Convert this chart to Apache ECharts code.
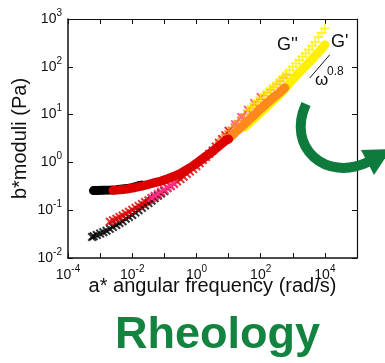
<!DOCTYPE html>
<html><head><meta charset="utf-8">
<script src="https://cdn.jsdelivr.net/npm/echarts@6/dist/echarts.min.js"></script>
<style>html,body{margin:0;padding:0;background:#fff}#c{width:385px;height:363px}</style>
</head><body><div id="c"></div>
<script>
// ---- data ----
const xTitle = 'a* angular frequency (rad/s)';
const yTitle = 'b*moduli (Pa)';
const chartTitle = 'Rheology';
const xLabelExp = [-4, -2, 0, 2, 4];
const yLabelExp = [-2, -1, 0, 1, 2, 3];

// G' (storage modulus, circles)
const gpBlackX = [6.2e-4, 7.9e-4, 1.26e-3, 2.0e-3, 3.2e-3, 5.0e-3, 7.9e-3, 0.01, 0.0158, 0.02];
const gpBlackY = [0.257, 0.257, 0.26, 0.263, 0.269, 0.279, 0.29, 0.297, 0.325, 0.336];
const gpRedX = [2.5e-3, 3.2e-3, 5.0e-3, 7.9e-3, 0.0126, 0.02, 0.032, 0.05, 0.079, 0.126, 0.2, 0.32, 0.5, 0.79, 1.26, 2.0, 3.2, 5.0, 7.9, 10];
const gpRedY = [0.26, 0.263, 0.272, 0.282, 0.299, 0.32, 0.347, 0.376, 0.407, 0.457, 0.513, 0.589, 0.708, 0.851, 1.07, 1.35, 1.70, 2.19, 2.82, 3.09];
const gpOrangeX = [10, 15.8, 25, 40, 63, 100, 158, 250, 400, 560];
const gpOrangeY = [3.09, 4.17, 5.50, 7.41, 9.77, 13.2, 17.4, 22.9, 29.5, 36.3];
const gpYellowX = [32, 50, 79, 126, 200, 320, 500, 790, 1260, 2000, 3200, 5000, 7900, 10000];
const gpYellowY = [5.5, 7.24, 9.55, 12.9, 17.4, 23.4, 31.6, 45.7, 64.6, 89.1, 123, 170, 234, 288];

// G'' (loss modulus, crosses)
const gppBlackX = [5.6e-4, 6.3e-4, 7.9e-4, 1.0e-3, 1.26e-3, 1.58e-3, 2.0e-3, 2.5e-3, 3.2e-3, 4.0e-3, 5.0e-3, 6.3e-3, 7.9e-3, 0.01, 0.0126, 0.0158, 0.02, 0.025, 0.032, 0.04, 0.05, 0.063, 0.079, 0.1];
const gppBlackY = [0.0275, 0.0285, 0.0302, 0.0324, 0.0347, 0.0372, 0.0407, 0.0447, 0.049, 0.0537, 0.0589, 0.0661, 0.0724, 0.0794, 0.0891, 0.1, 0.112, 0.126, 0.141, 0.158, 0.178, 0.2, 0.224, 0.251];
const gppRedX = [2.0e-3, 2.5e-3, 3.2e-3, 4.0e-3, 5.0e-3, 6.3e-3, 7.9e-3, 0.01, 0.0126, 0.0158, 0.02, 0.025, 0.032, 0.04, 0.05, 0.063, 0.079, 0.1, 0.126, 0.158, 0.2, 0.25, 0.32, 0.4, 0.5, 0.63, 0.79, 1.0, 1.26, 1.58, 2.0, 2.5, 3.2, 4.0, 5.0, 6.3, 7.9, 10];
const gppRedY = [0.0575, 0.0617, 0.0661, 0.0724, 0.0776, 0.0851, 0.0933, 0.102, 0.112, 0.123, 0.135, 0.148, 0.162, 0.178, 0.195, 0.214, 0.234, 0.263, 0.288, 0.316, 0.355, 0.398, 0.447, 0.501, 0.575, 0.646, 0.724, 0.832, 0.955, 1.12, 1.29, 1.51, 1.78, 2.14, 2.57, 3.09, 3.72, 4.57];
const gppPinkX = [0.04, 0.05, 0.063, 0.079, 0.1, 0.126, 0.158, 0.2, 15.8, 25, 40, 63, 100];
const gppPinkY = [0.182, 0.2, 0.219, 0.245, 0.269, 0.302, 0.331, 0.363, 6.31, 8.91, 12.6, 17.4, 23.4];
const gppOrangeX = [1.58, 2.0, 2.5, 3.2, 4.0, 5.0, 6.3, 7.9, 10, 12.6, 15.8, 20, 25, 32, 40, 50, 63, 79, 100, 126, 158, 200, 250, 320, 400, 500, 630];
const gppOrangeY = [1.15, 1.32, 1.55, 1.82, 2.19, 2.63, 3.16, 3.8, 4.57, 5.37, 6.31, 7.41, 8.71, 10.2, 12.0, 13.8, 16.2, 18.6, 21.4, 25.1, 28.8, 33.1, 38.0, 43.7, 50.1, 58.9, 67.6];
const gppYellowX = [40, 50, 63, 79, 100, 126, 158, 200, 250, 320, 400, 500, 630, 790, 1000, 1260, 1580, 2000, 2500, 3200, 4000, 5000, 6300, 7900, 10000];
const gppYellowY = [12.6, 14.5, 17.0, 19.5, 22.4, 26.3, 30.2, 34.7, 39.8, 45.7, 53.7, 63.1, 72.4, 85.1, 100, 117, 138, 162, 191, 229, 275, 331, 417, 513, 631];

// slope guide  (omega^0.8)
const slopeX = [3380, 14200];
const slopeY = [58.3, 179];

// ---- styling ----
const FONT = 'Liberation Sans, Arial, sans-serif';
const INK = '#111';
const C = { black: '#000000', red: '#dd0000', orange: '#ff8a1c', yellow: '#fff000', pink: '#ff2f8e' };
const XMARK = 'path://M0,1.6L1.6,0L5,3.4L8.4,0L10,1.6L6.6,5L10,8.4L8.4,10L5,6.6L1.6,10L0,8.4L3.4,5Z';
const PLUS = 'path://M4.2,0L5.8,0L5.8,4.2L10,4.2L10,5.8L5.8,5.8L5.8,10L4.2,10L4.2,5.8L0,5.8L0,4.2L4.2,4.2Z';

function pairs(xs, ys) { return xs.map((x, i) => [x, ys[i]]); }
function expLabel(show) {
  return function (v) {
    const e = Math.round(Math.log10(v));
    return show.indexOf(e) >= 0 ? '{b|10}{s|' + e + '}' : '';
  };
}
const rich = {
  b: { fontSize: 14, fontFamily: FONT, color: INK },
  s: { fontSize: 10, fontFamily: FONT, color: INK, padding: [0, 0, 12, 0] }
};
function band(data, color) {
  return { type: 'line', data: data, symbol: 'none', silent: true,
    lineStyle: { width: 9, color: color, cap: 'round', join: 'round' } };
}
function marks(data, color, sym, size) {
  return { type: 'scatter', data: data, symbol: sym, symbolSize: size, silent: true,
    itemStyle: { color: color } };
}
function logAxis(pos, label, extra) {
  return Object.assign({
    type: 'log', logBase: 10, position: pos,
    axisLine: { show: true, onZero: false, lineStyle: { color: INK, width: 1.5 } },
    axisTick: { show: true, inside: true, length: 5, lineStyle: { color: INK, width: 1 } },
    minorTick: { show: false }, splitLine: { show: false },
    axisLabel: label ? { formatter: label, rich: rich, margin: 6 } : { show: false }
  }, extra);
}

const chart = echarts.init(document.getElementById('c'), null, { renderer: 'canvas' });
chart.setOption({
  animation: false,
  backgroundColor: '#ffffff',
  title: { text: chartTitle, left: 115, top: 313, padding: 0,
    textStyle: { fontSize: 45, fontWeight: 'bold', color: '#13843f', fontFamily: FONT } },
  grid: { left: 68, top: 19, width: 289, height: 239, containLabel: false },
  xAxis: [
    logAxis('bottom', expLabel(xLabelExp), { min: 1e-4, max: 1e5, name: xTitle, nameLocation: 'middle', nameGap: 18,
      nameMoveOverlap: false,
      nameTextStyle: { fontSize: 20, fontFamily: FONT, color: INK } }),
    logAxis('top', null, { min: 1e-4, max: 1e5, axisLine: { show: true, onZero: false, lineStyle: { color: INK, width: 1.2 } } })
  ],
  yAxis: [
    logAxis('left', expLabel(yLabelExp), { min: 1e-2, max: 1e3, name: yTitle, nameLocation: 'middle', nameGap: 38,
      nameMoveOverlap: false,
      nameTextStyle: { fontSize: 20, fontFamily: FONT, color: INK } }),
    logAxis('right', null, { min: 1e-2, max: 1e3, axisLine: { show: true, onZero: false, lineStyle: { color: INK, width: 1.2 } } })
  ],
  series: [
    band(pairs(gpYellowX, gpYellowY), C.yellow),
    band(pairs(gpOrangeX, gpOrangeY), C.orange),
    band(pairs(gpBlackX, gpBlackY), C.black),
    band(pairs(gpRedX, gpRedY), C.red),
    marks(pairs(gppBlackX, gppBlackY), C.black, XMARK, 9),
    marks(pairs(gppRedX, gppRedY), C.red, XMARK, 9),
    marks(pairs(gppPinkX, gppPinkY), C.pink, XMARK, 9),
    marks(pairs(gppOrangeX, gppOrangeY), C.orange, PLUS, 9),
    marks(pairs(gppYellowX, gppYellowY), C.yellow, PLUS, 10),
    { type: 'line', data: pairs(slopeX, slopeY), symbol: 'none', silent: true,
      lineStyle: { width: 1, color: INK } }
  ],
  graphic: [
    { type: 'bezierCurve', silent: true, z: 10,
      shape: { x1: 306, y1: 104, cpx1: 286, cpy1: 148, cpx2: 326, cpy2: 182, x2: 368, y2: 162 },
      style: { stroke: '#0e7a3c', lineWidth: 10, fill: null } },
    { type: 'polygon', silent: true, z: 10,
      shape: { points: [[361, 150], [391, 149], [374, 175]] },
      style: { fill: '#0e7a3c' } },
    { type: 'text', z: 10, x: 277, y: 36, style: { text: "G''", font: '18px ' + FONT, fill: INK } },
    { type: 'text', z: 10, x: 331, y: 33, style: { text: "G'", font: '18px ' + FONT, fill: INK } },
    { type: 'text', z: 10, x: 315, y: 72, style: { text: '\u03c9', font: '17px ' + FONT, fill: INK } },
    { type: 'text', z: 10, x: 327, y: 66, style: { text: '0.8', font: '12px ' + FONT, fill: INK } }
  ]
});
</script></body></html>
